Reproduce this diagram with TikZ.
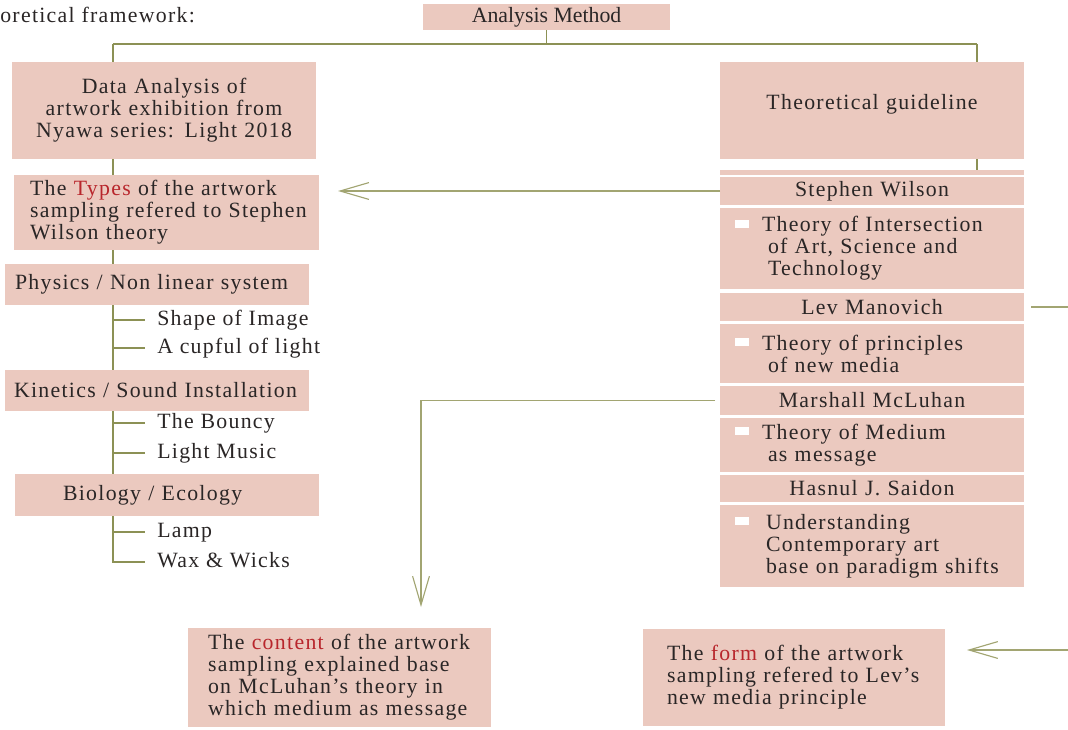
\documentclass[tikz,border=0pt]{standalone}
\usepackage{fontspec}
\setmainfont{Liberation Serif}[LetterSpace=6]
\newfontfamily\methodfont{Liberation Serif}
\usepackage{tikz}
\usetikzlibrary{arrows.meta, positioning, calc}
\usepackage{xcolor}
\definecolor{boxpink}{HTML}{EBC9BF}
\definecolor{lineolive}{HTML}{8C9155}
\definecolor{arrowolive}{HTML}{A2A572}
\definecolor{ink}{HTML}{2A2626}
\definecolor{accent}{HTML}{B8262C}
\newcommand{\bul}{\llap{\textcolor{white}{\rule[0.1cm]{0.36cm}{0.2cm}}\hspace{0.315cm}}}

\begin{document}
\begin{tikzpicture}[x=0.025cm, y=-0.025cm,
  box/.style={fill=boxpink, text=ink, inner sep=0pt, outer sep=0pt, anchor=north west,
    font=\fontsize{15.5pt}{15.65pt}\selectfont},
  cbox/.style={box, align=center, text width=#1},
  lbox/.style 2 args={box, align=left, text width=#1, execute at begin node={\leftskip=#2}},
  leaf/.style={anchor=west, inner xsep=0.3cm, inner ysep=0pt, text=ink,
    text height=1.85ex, text depth=0ex, font=\fontsize{15.5pt}{15.65pt}\selectfont},
  conn/.style={draw=lineolive, line width=1pt},
  arr/.style={draw=arrowolive, line width=0.8pt, -{Straight Barb[length=0.72cm, width=0.42cm]}}]

 \path[use as bounding box, fill=white] (0,0) rectangle (1068,730);

 % Nodes
 \node[anchor=base west, inner sep=0pt, text=ink, font=\fontsize{15.5pt}{15.65pt}\selectfont] (fw) at (0,22) {oretical framework:};
 \node[box, minimum width=6.175cm, minimum height=0.65cm, font=\methodfont\fontsize{15.5pt}{16pt}\selectfont] (am) at (423,4) {Analysis Method};

 % left column
 \node[cbox=7.6cm, minimum height=2.425cm] (dat) at (12,62) {Data Analysis of\\artwork exhibition from\\Nyawa series: Light 2018};
 \node[lbox={7.625cm}{0.4cm}, minimum height=1.875cm] (typ) at (14,175) {The \textcolor{accent}{Types} of the artwork\\sampling refered to Stephen\\Wilson theory};
 \node[lbox={7.6cm}{0.25cm}, minimum height=1.025cm] (phy) at (5,264) {Physics / Non linear system};
 \node[lbox={7.6cm}{0.225cm}, minimum height=1.025cm] (kin) at (5,370) {Kinetics / Sound Installation};
 \node[lbox={7.6cm}{1.2cm}, minimum height=1.05cm] (bio) at (15,474) {Biology / Ecology};
 \node[leaf] (l1) at (145,320) {Shape of Image};
 \node[leaf] (l2) at (145,348) {A cupful of light};
 \node[leaf] (l3) at (145,423) {The Bouncy};
 \node[leaf] (l4) at (145,453) {Light Music};
 \node[leaf] (l5) at (145,532) {Lamp};
 \node[leaf] (l6) at (145,562) {Wax \& Wicks};

 % right column
 \node[cbox=7.6cm, minimum height=2.425cm, text depth=0.45cm] (theo) at (720,62) {Theoretical guideline};
 \node[box, minimum width=7.6cm, minimum height=0.125cm] (strip) at (720,170) {};
 \node[cbox=7.6cm, minimum height=0.7cm] (sw) at (720,177) {Stephen Wilson};
 \node[lbox={7.6cm}{1.05cm}, minimum height=2.025cm] (swT) at (720,208) {\bul Theory of Intersection\\\hspace*{0.15cm}of Art, Science and\\\hspace*{0.15cm}Technology};
 \node[cbox=7.6cm, minimum height=0.7cm] (lm) at (720,293) {Lev Manovich};
 \node[lbox={7.6cm}{1.05cm}, minimum height=1.475cm] (lmT) at (720,324) {\bul Theory of principles\\\hspace*{0.15cm}of new media};
 \node[cbox=7.6cm, minimum height=0.725cm] (mm) at (720,386) {Marshall McLuhan};
 \node[lbox={7.6cm}{1.05cm}, minimum height=1.35cm] (mmT) at (720,418) {\bul Theory of Medium\\\hspace*{0.15cm}as message};
 \node[cbox=7.6cm, minimum height=0.675cm] (hs) at (720,475) {Hasnul J. Saidon};
 \node[lbox={7.6cm}{1.05cm}, minimum height=2.05cm] (hsT) at (720,505) {\bul\hspace*{0.1cm}Understanding\\\hspace*{0.1cm}Contemporary art\\\hspace*{0.1cm}base on paradigm shifts};

 % bottom
 \node[lbox={7.575cm}{0.5cm}, minimum height=2.475cm] (cnt) at (188,628) {The \textcolor{accent}{content} of the artwork\\sampling explained base\\on McLuhan's theory in\\which medium as message};
 \node[lbox={7.55cm}{0.6cm}, minimum height=2.425cm] (frm) at (643,629) {The \textcolor{accent}{form} of the artwork\\sampling refered to Lev's\\new media principle};

 % Solid lines
 \coordinate (spL) at (113,44);
 \coordinate (spR) at (977,44);
 \draw[conn] (am.south) -- (am.south |- spL);
 \draw[conn] (spL) -- (spR);
 \draw[conn] (spL) -- (spL |- dat.north);
 \draw[conn] (spR) -- (spR |- theo.north);
 \draw[conn] (spL |- dat.south) -- (spL |- typ.north);
 \draw[conn] (spL |- typ.south) -- (spL |- phy.north);
 \draw[conn] (spL |- phy.south) -- (spL |- kin.north);
 \draw[conn] (spL |- kin.south) -- (spL |- bio.north);
 \draw[conn] (spL |- bio.south) |- (l6.west);
 \foreach \n in {l1,l2,l3,l4,l5}
   \draw[conn] (spL |- \n.west) -- (\n.west);
 \draw[conn] (spR |- theo.south) -- (spR |- strip.north);

 % Arrows
 \coordinate (cntIn) at (421,607);
 \coordinate (frmIn) at (967,650);
 \draw[arr] (sw.west) -- ($(typ.east |- sw.west)+(19,0)$);
 \draw[arr] ($(mm.west)+(-5,0)$) -| (cntIn);
 \draw[arr] ($(lm.east)+(7,0)$) -- ++(70,0) |- (frmIn);

\end{tikzpicture}
\end{document}
